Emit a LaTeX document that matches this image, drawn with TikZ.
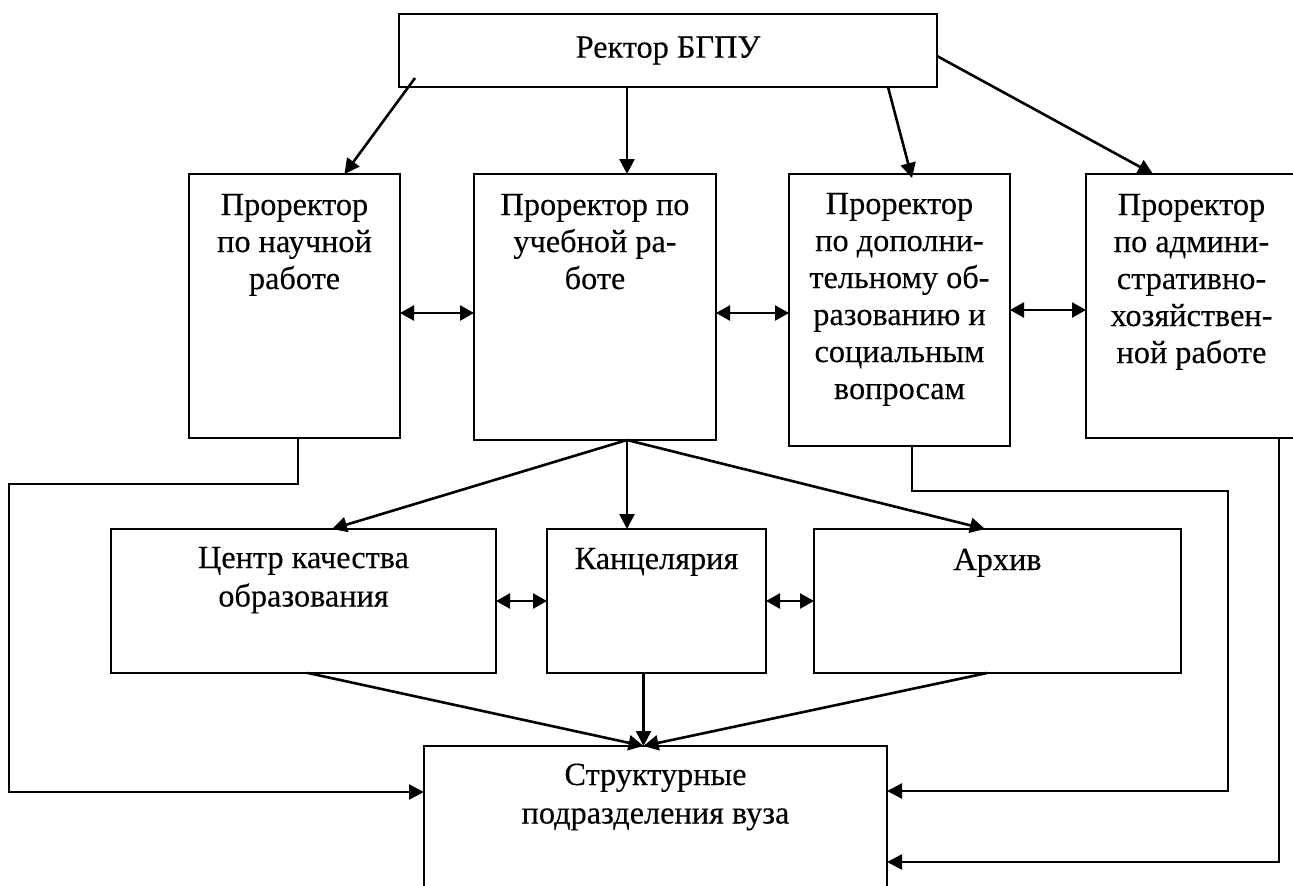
\documentclass[tikz,border=0pt]{standalone}
\usepackage{fontspec}
\setmainfont{Liberation Serif}[BoldFont=Liberation Serif, BoldFeatures={FakeBold=0.25}]
\usetikzlibrary{arrows.meta}
\newcommand\boxtxt[4]{\parbox[c][#2][t]{#1}{\centering\rule{0pt}{#3}#4\par}}
\begin{document}
\begin{tikzpicture}[x=1pt,y=-1pt,
  box/.style={draw, line width=2pt, inner sep=0pt, outer sep=0pt},
  arr/.style={line width=2.6pt, -{Triangle[length=15pt,width=15pt]}},
  darr/.style={line width=2.6pt, {Triangle[length=14pt,width=15pt]}-{Triangle[length=14pt,width=15pt]}},
  elb/.style={line width=2.3pt, -{Triangle[length=15pt,width=15pt]}},
  every node/.style={font=\fontsize{32.3}{37}\selectfont\bfseries},
  wide/.style={font=\fontsize{32.3}{38.5}\selectfont\bfseries}]
\useasboundingbox (0,0) rectangle (1293,886);
\clip (0,0) rectangle (1293,886);

\node[box, minimum width=538pt, minimum height=73pt, anchor=north west] (R) at (399,14) {Ректор БГПУ};
\node[box, anchor=north west] (B1) at (189,174) {\boxtxt{211pt}{264pt}{41pt}{Проректор\\по научной\\работе}};
\node[box, anchor=north west] (B2) at (474,174) {\boxtxt{242pt}{266pt}{41pt}{Проректор по\\учебной ра-\\боте}};
\node[box, anchor=north west] (B3) at (789,174) {\boxtxt{221pt}{272pt}{40pt}{Проректор\\по дополни-\\тельному об-\\разованию и\\социальным\\вопросам}};
\node[box, anchor=north west] (B4) at (1086,174) {\boxtxt{211pt}{264pt}{41pt}{Проректор\\по админи-\\стративно-\\хозяйствен-\\ной работе}};

\node[box, wide, anchor=north west] (C) at (111,529) {\boxtxt{385pt}{144pt}{39pt}{Центр качества\\образования}};
\node[box, anchor=north west] (K) at (547,529) {\boxtxt{219pt}{144pt}{40pt}{Канцелярия}};
\node[box, anchor=north west] (A) at (814,529) {\boxtxt{367pt}{144pt}{41pt}{Архив}};
\node[box, wide, anchor=north west] (S) at (424,746) {\boxtxt{463pt}{144pt}{39pt}{Структурные\\подразделения вуза}};

% rector to vice-rectors
\draw[arr] ([shift={(16,-9)}]R.south west) -- ([xshift=50pt]B1.north);
\coordinate (b2t) at ([xshift=32pt]B2.north);
\draw[arr] (b2t |- R.south) -- (b2t);
\draw[arr] ([xshift=220pt]R.south) -- ([xshift=12.5pt,yshift=-4pt]B3.north);
\draw[arr] ([yshift=-5.5pt]R.east) -- ([xshift=-38.5pt]B4.north);

% horizontal links
\draw[darr] ([yshift=-7pt]B1.east) -- ([yshift=-7pt]B1.east -| B2.west);
\draw[darr] ([yshift=-6pt]B2.east) -- ([yshift=-6pt]B2.east -| B3.west);
\draw[darr] (B3.east) -- (B3.east -| B4.west);
\draw[darr] (C.east) -- (C.east -| K.west);
\draw[darr] (K.east) -- (K.east -| A.west);

% from vice-rector for education
\coordinate (b2b) at ([xshift=32pt]B2.south);
\draw[arr] (b2b) -- ([xshift=28.5pt]C.north);
\draw[arr] (b2b) -- (b2b |- K.north);
\draw[arr] (b2b) -- ([xshift=-12.5pt]A.north);

% to structural units
\coordinate (st) at ([xshift=-12pt]S.north);
\draw[arr] ([xshift=4.5pt]C.south) -- (st);
\draw[arr] (st |- K.south) -- (st);
\draw[arr] ([xshift=-10.5pt]A.south) -- (st);

% elbows
\coordinate (L1) at (9,484);
\coordinate (L2) at (9,792);
\draw[elb] ([xshift=3.5pt]B1.south) |- (L1) -- (L2) -- (L2 -| S.west);
\coordinate (R1) at (1228,491);
\coordinate (R2) at (1228,791);
\draw[elb] ([xshift=12.5pt]B3.south) |- (R1) -- (R2) -- (R2 -| S.east);
\coordinate (R3) at (1279,862);
\draw[elb] ([xshift=87.5pt]B4.south) |- (R3) -- (R3 -| S.east);
\end{tikzpicture}
\end{document}
